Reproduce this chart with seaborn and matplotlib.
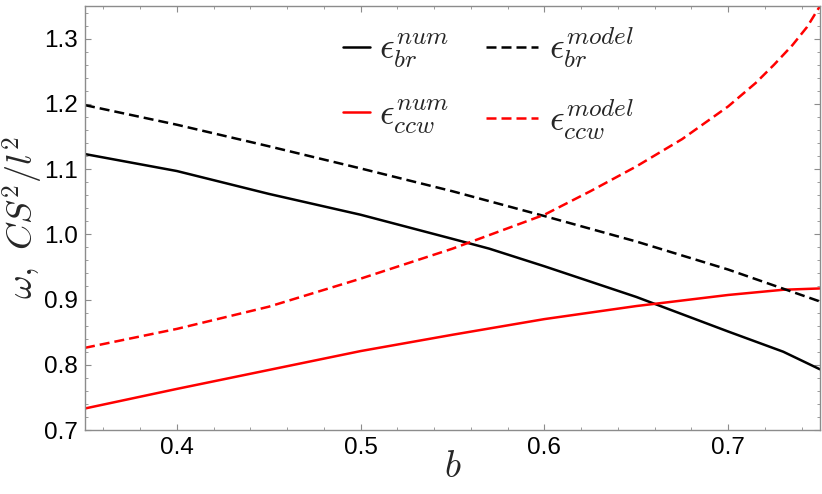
import matplotlib
matplotlib.use("Agg")
import matplotlib.pyplot as plt
import seaborn as sns
from matplotlib.ticker import MultipleLocator

# values
b_br_num = [0.35, 0.40, 0.45, 0.50, 0.55, 0.57, 0.60, 0.65, 0.70, 0.73, 0.75]
eps_br_num = [1.123, 1.097, 1.062, 1.030, 0.993, 0.978, 0.951, 0.904, 0.851, 0.820, 0.793]

b_br_model = [0.35, 0.40, 0.45, 0.50, 0.55, 0.60, 0.65, 0.70, 0.75]
eps_br_model = [1.198, 1.168, 1.135, 1.101, 1.066, 1.028, 0.989, 0.946, 0.897]

b_ccw_num = [0.35, 0.40, 0.45, 0.50, 0.55, 0.60, 0.65, 0.70, 0.73, 0.75]
eps_ccw_num = [0.733, 0.763, 0.792, 0.821, 0.846, 0.870, 0.890, 0.907, 0.915, 0.917]

b_ccw_model = [0.35, 0.40, 0.45, 0.50, 0.55, 0.60, 0.625, 0.65, 0.675, 0.70,
               0.715, 0.725, 0.735, 0.743, 0.75]
eps_ccw_model = [0.826, 0.855, 0.889, 0.932, 0.978, 1.030, 1.066, 1.104, 1.146, 1.196,
                 1.232, 1.260, 1.290, 1.318, 1.350]

sns.set_style("ticks")
plt.rcParams["font.family"] = ["Liberation Sans", "DejaVu Sans"]
plt.rcParams["mathtext.fontset"] = "cm"

fig = plt.figure(figsize=(8.22, 4.94), dpi=100)
ax = fig.add_axes([85/822, 1-430/494, 735/822, 424/494])

lw = 1.8
dash = (0, (4, 2))
sns.lineplot(x=b_br_num, y=eps_br_num, ax=ax, color="black", lw=lw, label=r"$\epsilon_{br}^{num}$")
sns.lineplot(x=b_ccw_num, y=eps_ccw_num, ax=ax, color="red", lw=lw, label=r"$\epsilon_{ccw}^{num}$")
sns.lineplot(x=b_br_model, y=eps_br_model, ax=ax, color="black", lw=lw, linestyle=dash, label=r"$\epsilon_{br}^{model}$")
sns.lineplot(x=b_ccw_model, y=eps_ccw_model, ax=ax, color="red", lw=lw, linestyle=dash, label=r"$\epsilon_{ccw}^{model}$")

ax.set_xlim(0.35, 0.75)
ax.set_ylim(0.7, 1.35)
ax.xaxis.set_minor_locator(MultipleLocator(0.02))
ax.yaxis.set_minor_locator(MultipleLocator(0.02))
ax.set_xticks([0.4, 0.5, 0.6, 0.7])
ax.set_yticks([0.7, 0.8, 0.9, 1.0, 1.1, 1.2, 1.3])

frame = "#8c8c8c"
for s in ax.spines.values():
    s.set_color(frame)
    s.set_linewidth(1.0)
ax.tick_params(which="both", direction="in", top=True, right=True, color=frame,
               labelsize=17.5, labelcolor="black")
ax.tick_params(which="major", length=4, width=0.8, pad=5)
ax.tick_params(which="minor", length=2, width=0.6)

ax.set_xlabel(r"$b$", fontsize=27)
ax.xaxis.set_label_coords(0.5, -0.045)
ax.set_ylabel(r"$\omega,\ CS^2/l^2$", fontsize=26)
ax.yaxis.set_label_coords(-0.055, 0.5)

handles, labels = ax.get_legend_handles_labels()
ax.get_legend().remove()
leg1 = fig.legend(handles[:2], labels[:2], loc="center left",
                  bbox_to_anchor=(343/822, 1-84/494), frameon=False,
                  fontsize=26, handlelength=0.75, handletextpad=0.25,
                  borderpad=0, borderaxespad=0, labelspacing=0.75)
leg2 = fig.legend(handles[2:], labels[2:], loc="center left",
                  bbox_to_anchor=(486/822, 1-84/494), frameon=False,
                  fontsize=26, handlelength=1.45, handletextpad=0.3,
                  borderpad=0, borderaxespad=0, labelspacing=0.75)

fig.savefig("out.png", dpi=100)
